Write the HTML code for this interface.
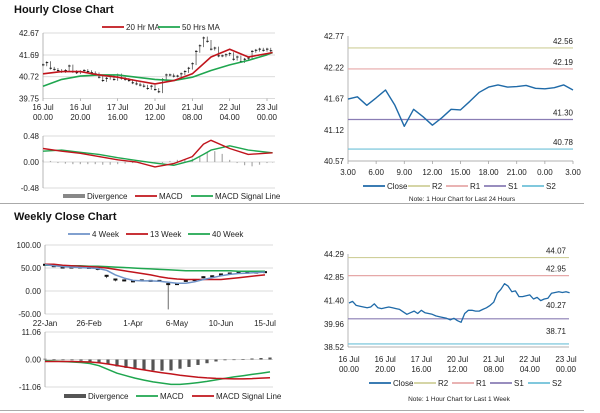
<!DOCTYPE html>
<html><head><meta charset="utf-8"><style>
body{margin:0;background:#fff;}
svg{display:block;font-family:"Liberation Sans",sans-serif;}
text{font-size:8px;fill:#222;}
.t{font-size:11px;font-weight:bold;fill:#111;}
</style></head><body>
<svg id="s" width="600" height="413" viewBox="0 0 600 413">
<text class="t" x="14" y="13">Hourly Close Chart</text>
<text class="t" x="14" y="220">Weekly Close Chart</text>
<line x1="0" y1="203.5" x2="584" y2="203.5" stroke="#aaa" stroke-width="1"/>
<line x1="0" y1="410.5" x2="584" y2="410.5" stroke="#aaa" stroke-width="1"/>
</svg>
<script>
// ---- hourly data (2h steps) ----
const hourlyCloseHours=[0,2,4,6,8,10,12,14,16,18,20,22,24,26,28,30,32,34,36,38,40,42,44,46,48,50,52,54,56,58,60,62,64,66,68,70,72,74,76,78,80,82,84,86,88,90,92,94,96,98,100,102,104,106,108,110,112,114,116,118,120,122];
const hourlyClose=[41.25,41.35,41.1,41.05,41.0,40.95,41.0,41.2,40.95,40.9,40.95,41.0,40.95,40.9,40.85,40.7,40.55,40.65,40.75,40.6,40.8,40.65,40.6,40.55,40.45,40.4,40.35,40.3,40.2,40.3,40.15,40.05,40.6,40.8,40.8,40.75,40.75,40.85,40.95,41.1,41.3,41.85,42.1,42.45,42.3,41.95,42.0,41.65,41.65,41.7,41.75,41.5,41.6,41.4,41.5,41.55,41.85,41.9,41.95,41.9,41.95,41.88];
const maHours=[0,10,20,30,40,50,60,70,80,90,100,110,120,123];
const ma20=[40.85,40.95,40.95,40.8,40.7,40.55,40.4,40.55,40.85,41.6,41.95,41.6,41.75,41.8];
const ma50=[40.3,40.6,40.75,40.8,40.8,40.7,40.6,40.55,40.7,41.0,41.25,41.45,41.7,41.8];
const macdHours=[0,10,20,30,40,50,60,70,80,86,90,100,110,123];
const hMacd=[0.25,0.2,0.16,0.1,0.04,0.0,-0.09,-0.03,0.1,0.33,0.4,0.25,0.14,0.17];
const hSignal=[0.2,0.22,0.18,0.14,0.08,0.03,-0.02,-0.06,0.03,0.14,0.22,0.3,0.22,0.17];
const divHours=[0,4,8,12,16,20,24,28,32,36,40,44,48,52,56,60,64,68,72,76,80,84,88,92,96,100,104,108,112,116,120,123];
const hDiv=[0.04,0.02,-0.02,-0.03,-0.04,-0.04,-0.04,-0.04,-0.05,-0.05,-0.04,-0.03,-0.02,-0.02,-0.01,0.0,-0.02,0.02,0.04,0.05,0.06,0.09,0.18,0.2,0.15,0.04,-0.02,-0.06,-0.08,-0.05,-0.02,0.0];
const hourTickLabels=[["16 Jul","00.00"],["16 Jul","20.00"],["17 Jul","16.00"],["20 Jul","12.00"],["21 Jul","08.00"],["22 Jul","04.00"],["23 Jul","00.00"]];
const hourTickHours=[0,20,40,60,80,100,120];
const hPriceTicks=["42.67","41.69","40.72","39.75"];
const hMacdTicks=["0.48","0.00","-0.48"];
// ---- 24h ----
const dayClose=[41.66,41.70,41.55,41.68,41.82,41.55,41.18,41.48,41.35,41.20,41.33,41.48,41.47,41.62,41.78,41.87,41.91,41.87,41.88,41.90,41.85,41.84,41.86,41.91,41.82];
const dayTickLabels=["3.00","6.00","9.00","12.00","15.00","18.00","21.00","0.00","3.00"];
const dayTicks=["42.77","42.22","41.67","41.12","40.57"];
const dayLevels=[42.56,42.19,41.30,40.78];
const weekLevels=[44.07,42.95,40.27,38.71];
const weekPriceTicks=["44.29","42.85","41.40","39.96","38.52"];
// ---- weekly ----
const weeks=[0,1,2,3,4,5,6,7,8,9,10,11,12,13,14,15,16,17,18,19,20,21,22,23,24,25];
const wClose=[57,54,51,51,51,50,48,33,25,23,21,23,22,22,15,15,22,24,30,32,36,38,40,40,40,41];
const wLow=[55,52,49,49,49,48,45,28,21,21,19,21,20,20,-40,13,20,22,28,30,34,36,38,38,38,39];
const w4=[57,55,53,52,51,50,49,45,35,28,23,22,22,21,19,17,17,20,25,29,33,36,38,39,40,41];
const w13=[58,58,56,55,54,53,52,50,47,44,41,38,35,31,28,26,25,25,25,25,25,27,29,31,33,35];
const w40=[56,56,55,55,55,54,54,53,52,51,50,49,48,47,46,45,44,44,44,44,44,44,43,43,43,43];
const wMacd=[-0.5,-0.6,-0.8,-1,-1.2,-1.6,-2.5,-4,-5.5,-6.5,-7.5,-8.3,-9,-9.5,-10,-10,-9.7,-9.3,-8.8,-8.2,-7.6,-7,-6.5,-6,-5.5,-5];
const wSignal=[-0.8,-0.8,-0.8,-0.8,-0.9,-1,-1.3,-1.8,-2.4,-3,-3.6,-4.2,-4.8,-5.3,-5.8,-6.3,-6.7,-7.1,-7.4,-7.6,-7.7,-7.8,-7.8,-7.7,-7.5,-7.3];
const wDiv=[0.3,0.1,-0.1,-0.3,-0.5,-0.8,-1.3,-2,-2.8,-3.4,-3.9,-4.2,-4.4,-4.5,-4.4,-3.7,-3,-2.2,-1.5,-0.8,-0.3,0,0.2,0.4,0.6,0.8];
const weekTickLabels=["22-Jan","26-Feb","1-Apr","6-May","10-Jun","15-Jul"];
const weekTickWeeks=[0,5,10,15,20,25];
const wPriceTicks=["100.00","50.00","0.00","-50.00"];
const wMacdTicks=["11.06","0.00","-11.06"];

const S=document.getElementById('s');const NS='http://www.w3.org/2000/svg';
function mk(tag,a,parent){const e=document.createElementNS(NS,tag);for(const k in a)e.setAttribute(k,a[k]);(parent||S).appendChild(e);return e;}
function lin(d0,d1,r0,r1){return v=>r0+(v-d0)/(d1-d0)*(r1-r0);}
function txt(x,y,s,anchor,name){const t=mk('text',{x:x,y:y,'text-anchor':anchor||'start'});t.textContent=s;return t;}
function poly(xs,ys,fx,fy,col,w,name){const p=mk('polyline',{points:xs.map((x,i)=>fx(x).toFixed(1)+','+fy(ys[i]).toFixed(1)).join(' '),fill:'none',stroke:col,'stroke-width':w,'stroke-linejoin':'round'});return p;}
function yaxis(x0,x1,ticks,vals,fy,name,grid){ticks.forEach((t,i)=>{const y=fy(vals[i]);if(grid){const g=mk('line',{x1:x0,x2:x1,y1:y,y2:y,stroke:'#cfcfcf','stroke-width':0.7});}txt(x0-4,y+3,t,'end',name+'-tick');});
 const a=mk('line',{x1:x0,x2:x0,y1:fy(vals[0]),y2:fy(vals[vals.length-1]),stroke:'#999','stroke-width':0.7});}
function legend(items,y,x){let cx=x;items.forEach(it=>{const g=mk('g',{});
 if(it.bar){mk('rect',{x:cx,y:y-3,width:22,height:4,fill:it.c},g);}else mk('line',{x1:cx,x2:cx+22,y1:y-1,y2:y-1,stroke:it.c,'stroke-width':1.8},g);
 const t=mk('text',{x:cx+24,y:y+2},g);t.textContent=it.n;cx+=it.w;});}
const RED='#c0141c',GRN='#1fa64f',CLOSE='#1f6aa8',R2='#cfcf9a',R1='#e6a8a8',S1C='#8a7db4',S2C='#6ec0d8';

// ===== Hourly price chart =====
(function(){const fx=lin(0,120,43,267);const fy=lin(42.67,39.75,33,98.5);
 yaxis(43,275,hPriceTicks,[42.67,41.69,40.72,39.75],fy,'hourly-y-axis',true);
 hourTickHours.forEach((h,i)=>{const x=fx(h);mk('line',{x1:x,x2:x,y1:98.5,y2:101,stroke:'#999','stroke-width':0.7});txt(x,110,hourTickLabels[i][0],'middle','hourly-x-tick');txt(x,120,hourTickLabels[i][1],'middle','hourly-x-tick');});
 hourlyCloseHours.forEach((h,i)=>{const c=hourlyClose[i];const p=i?hourlyClose[i-1]:c;const hi=Math.max(c,p)+0.06,lo=Math.min(c,p)-0.06;const x=fx(h);
  const l=mk('line',{x1:x,x2:x,y1:fy(hi),y2:fy(lo),stroke:'#555','stroke-width':0.8});
  const r=mk('line',{x1:x-1,x2:x+1.5,y1:fy(c),y2:fy(c),stroke:'#111','stroke-width':0.9});});
 poly(maHours,ma50,fx,fy,GRN,1.6,'ma50-line');poly(maHours,ma20,fx,fy,RED,1.6,'ma20-line');
 legend([{n:'20 Hr MA',c:RED,w:56},{n:'50 Hrs MA',c:GRN,w:60}],28,102);
})();
// ===== Hourly MACD =====
(function(){const fx=lin(0,120,43,267);const fy=lin(0.48,-0.48,136,188);
 yaxis(43,275,hMacdTicks,[0.48,0,-0.48],fy,'hourly-macd-y-axis',true);
 divHours.forEach((h,i)=>{const y0=fy(0),y1=fy(hDiv[i]);const r=mk('rect',{x:fx(h)-0.6,y:Math.min(y0,y1),width:1.2,height:Math.max(0.5,Math.abs(y1-y0)),fill:'#aaa'});});
 poly(macdHours,hSignal,fx,fy,GRN,1.4,'hourly-signal-line');poly(macdHours,hMacd,fx,fy,RED,1.4,'hourly-macd-line');
 legend([{n:'Divergence',c:'#888',w:72,bar:1},{n:'MACD',c:RED,w:56},{n:'MACD Signal Line',c:GRN,w:80}],197,63);
})();
// ===== 24h chart =====
(function(){const fx=lin(0,24,348,573);const fy=lin(42.77,40.57,36,161);
 yaxis(348,573,dayTicks,[42.77,42.22,41.67,41.12,40.57],fy,'day-y-axis',false);
 mk('line',{x1:348,x2:573,y1:161,y2:161,stroke:'#999','stroke-width':0.7});
 dayTickLabels.forEach((t,i)=>{const x=fx(i*3);mk('line',{x1:x,x2:x,y1:161,y2:164,stroke:'#999','stroke-width':0.7});txt(x,175,t,'middle','day-x-tick');});
 const cols=[R2,R1,S1C,S2C],nm=['r2','r1','s1','s2'];
 dayLevels.forEach((v,i)=>{const l=mk('line',{x1:348,x2:573,y1:fy(v),y2:fy(v),stroke:cols[i],'stroke-width':1.2});txt(573,fy(v)-4,v.toFixed(2),'end','day-'+nm[i]+'-label');});
 poly(dayClose.map((v,i)=>i),dayClose,fx,fy,CLOSE,1.4,'day-close-line');
 legend([{n:'Close',c:CLOSE,w:45},{n:'R2',c:R2,w:38},{n:'R1',c:R1,w:38},{n:'S1',c:S1C,w:38},{n:'S2',c:S2C,w:38}],187,363);
 const n=txt(462,201,'Note: 1 Hour Chart for Last 24 Hours','middle','day-note');n.style.fontSize='6.5px';
})();
// ===== Weekly price chart =====
(function(){const fx=lin(0,25,45,265);const fy=lin(100,-50,245,314);
 yaxis(45,273,wPriceTicks,[100,50,0,-50],fy,'weekly-y-axis',true);
 weekTickWeeks.forEach((w,i)=>txt(fx(w),326,weekTickLabels[i],'middle','weekly-x-tick'));
 weeks.forEach((w,i)=>{const x=fx(w);const l=mk('line',{x1:x,x2:x,y1:fy(wClose[i]+2),y2:fy(wLow[i]),stroke:'#444','stroke-width':0.8});
  const r=mk('rect',{x:x-2,y:fy(wClose[i])-1,width:4,height:2,fill:'#111'});});
 poly(weeks,w40,fx,fy,GRN,1.5,'week40-line');poly(weeks,w13,fx,fy,RED,1.5,'week13-line');poly(weeks,w4,fx,fy,'#6f93c8',1.5,'week4-line');
 legend([{n:'4 Week',c:'#6f93c8',w:58},{n:'13 Week',c:RED,w:62},{n:'40 Week',c:GRN,w:60}],235,68);
})();
// ===== Weekly MACD =====
(function(){const fx=lin(0,25,45,270);const fy=lin(11.06,-11.06,332,387);
 yaxis(45,273,wMacdTicks,[11.06,0,-11.06],fy,'weekly-macd-y-axis',true);
 weeks.forEach((w,i)=>{const y0=fy(0),y1=fy(wDiv[i]);const r=mk('rect',{x:fx(w)-1.6,y:Math.min(y0,y1),width:3.2,height:Math.max(0.6,Math.abs(y1-y0)),fill:'#555'});});
 poly(weeks,wMacd,fx,fy,GRN,1.5,'weekly-macd-line');poly(weeks,wSignal,fx,fy,RED,1.5,'weekly-signal-line');
 legend([{n:'Divergence',c:'#555',w:72,bar:1},{n:'MACD',c:GRN,w:56},{n:'MACD Signal Line',c:RED,w:80}],397,64);
})();
// ===== Weekly-hourly chart =====
(function(){const fx=lin(0,120,349,566);const fy=lin(44.29,38.52,254,347);
 yaxis(348,569,weekPriceTicks,[44.29,42.85,41.40,39.96,38.52],fy,'week-hourly-y-axis',false);
 mk('line',{x1:348,x2:569,y1:347,y2:347,stroke:'#999','stroke-width':0.7});
 hourTickHours.forEach((h,i)=>{const x=fx(h);txt(x,362,hourTickLabels[i][0],'middle','week-hourly-x-tick');txt(x,372,hourTickLabels[i][1],'middle','week-hourly-x-tick');});
 const cols=[R2,R1,S1C,S2C],nm=['r2','r1','s1','s2'];
 weekLevels.forEach((v,i)=>{const l=mk('line',{x1:348,x2:569,y1:fy(v),y2:fy(v),stroke:cols[i],'stroke-width':1.2});txt(566,fy(v)-(i==2?11:i==3?10:4),v.toFixed(2),'end','week-'+nm[i]+'-label');});
 poly(hourlyCloseHours,hourlyClose,fx,fy,CLOSE,1.3,'week-close-line');
 legend([{n:'Close',c:CLOSE,w:45},{n:'R2',c:R2,w:38},{n:'R1',c:R1,w:38},{n:'S1',c:S1C,w:38},{n:'S2',c:S2C,w:38}],384,369);
 const n=txt(459,401,'Note: 1 Hour Chart for Last 1 Week','middle','week-note');n.style.fontSize='6.5px';
})();
</script>
</body></html>
